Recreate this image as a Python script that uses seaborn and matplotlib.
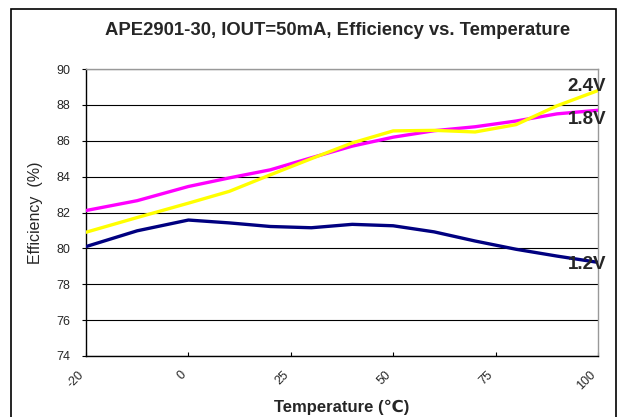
import numpy as np
import pandas as pd
import seaborn as sns
import matplotlib.pyplot as plt
from matplotlib.patches import Rectangle

# Temperature points (deg C) and efficiency readings (%)
temps = [-20, -10, 0, 10, 20, 30, 40, 50, 60, 70, 80, 90, 100]
eff_12v = [80.1, 80.98, 81.58, 81.42, 81.22, 81.15, 81.34, 81.26, 80.92, 80.41, 79.95, 79.57, 79.22]
eff_18v = [82.11, 82.66, 83.45, 83.93, 84.38, 85.05, 85.7, 86.2, 86.56, 86.78, 87.1, 87.5, 87.7]
eff_24v = [80.9, 81.72, 82.52, 83.18, 84.1, 85.0, 85.88, 86.55, 86.58, 86.49, 86.9, 87.95, 88.8]

tick_temps = [-20, 0, 25, 50, 75, 100]
tick_labels = ['-20', '0', '25', '50', '75', '100']

# Excel category axis: the labelled temperatures are evenly spaced
def to_pos(t):
    return np.interp(t, tick_temps, np.arange(len(tick_temps)))

df = pd.DataFrame({
    'pos': np.tile(to_pos(temps), 3),
    'eff': eff_12v + eff_18v + eff_24v,
    'series': ['1.2V'] * len(temps) + ['1.8V'] * len(temps) + ['2.4V'] * len(temps),
})

sns.set_style('white')
plt.rcParams['font.family'] = ['Liberation Sans', 'DejaVu Sans']

fig = plt.figure(figsize=(6.2, 4.17), dpi=100)
ax = fig.add_axes([0.1387, 0.1463, 0.8258, 0.6882])

palette = {'1.2V': '#000080', '1.8V': '#FF00FF', '2.4V': '#FFFF00'}
sns.lineplot(data=df, x='pos', y='eff', hue='series', palette=palette,
             linewidth=2.4, legend=False, ax=ax, zorder=3)

ax.set_xlim(0, 5)
ax.set_ylim(74, 90)
ax.set_yticks(np.arange(74, 91, 2))
ax.set_xticks(to_pos(tick_temps))
ax.set_xticklabels(tick_labels, rotation=45, ha='right', fontsize=9)
ax.tick_params(axis='y', labelsize=9, direction='out', length=3, width=0.8, color='black', left=True, pad=8)
ax.tick_params(axis='x', direction='in', length=3, width=0.8, color='black', bottom=True, pad=9)

ax.yaxis.grid(True, color='black', linewidth=0.8)
ax.xaxis.grid(False)
for side in ['left', 'bottom']:
    ax.spines[side].set_color('black')
    ax.spines[side].set_linewidth(1.0)
for side in ['top', 'right']:
    ax.spines[side].set_color('#999999')
    ax.spines[side].set_linewidth(1.0)

# Series labels at the right end
ax.text(5.08, 89.0, '2.4V', ha='right', va='center', fontsize=13.5, fontweight='bold')
ax.text(5.08, 87.2, '1.8V', ha='right', va='center', fontsize=13.5, fontweight='bold')
ax.text(5.08, 79.1, '1.2V', ha='right', va='center', fontsize=13.5, fontweight='bold')

ax.set_ylabel('Efficiency  (%)', fontsize=11.5, labelpad=10)
ax.set_xlabel('Temperature (℃)', fontsize=12, fontweight='bold', labelpad=6)
fig.text(0.545, 0.928, 'APE2901-30, IOUT=50mA, Efficiency vs. Temperature',
         ha='center', va='center', fontsize=13.3, fontweight='bold')

# Outer chart border
fig.patches.append(Rectangle((11 / 620, -0.01), 605 / 620, 1 - 9 / 417 + 0.01,
                             transform=fig.transFigure, fill=False,
                             edgecolor='black', linewidth=1.2))

fig.savefig('out.png', dpi=100)
